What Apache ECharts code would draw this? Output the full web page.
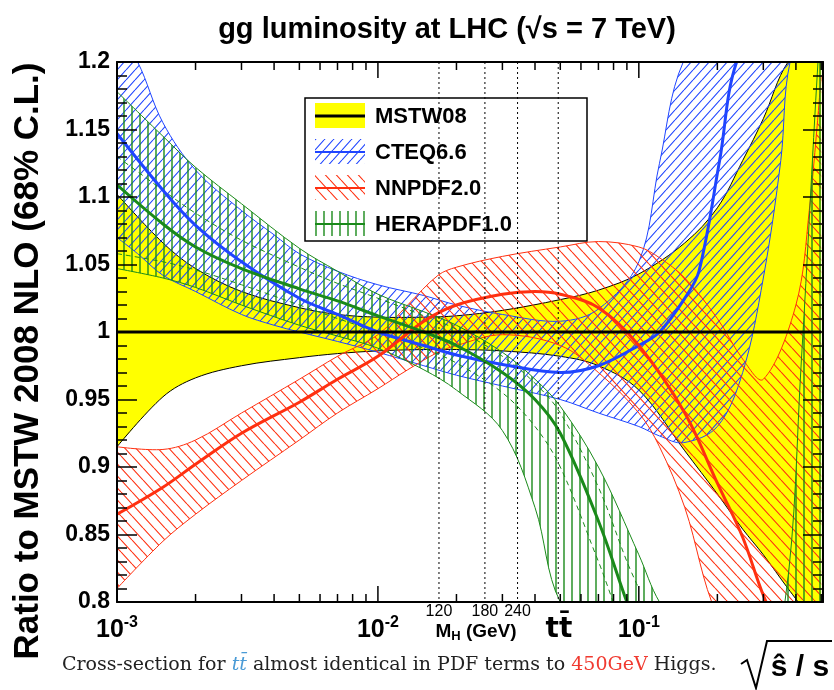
<!DOCTYPE html>
<html>
<head>
<meta charset="utf-8">
<script src="https://cdn.jsdelivr.net/npm/echarts@6/dist/echarts.min.js"></script>
<style>
html, body { margin: 0; padding: 0; background: #fff; }
#chart { width: 834px; height: 690px; }
</style>
</head>
<body>
<div id="chart"></div>
<script>
// x = sqrt(s_hat / s), y = ratio to MSTW 2008 NLO

// MSTW08 band (yellow)
const mstwX  = [0.001, 0.0015, 0.002, 0.003, 0.005, 0.007, 0.01, 0.015, 0.02, 0.03, 0.05, 0.07, 0.1, 0.15, 0.2, 0.25, 0.3, 0.373, 0.5];
const mstwUp = [1.102, 1.066, 1.047, 1.03, 1.018, 1.013, 1.011, 1.011, 1.012, 1.016, 1.024, 1.031, 1.043, 1.066, 1.092, 1.127, 1.158, 1.2, 1.32];
const mstwLo = [0.915, 0.952, 0.966, 0.975, 0.981, 0.984, 0.986, 0.987, 0.987, 0.986, 0.982, 0.975, 0.957, 0.912, 0.88, 0.854, 0.835, 0.81, 0.72];
const mstwCX = [0.001, 0.5];
const mstwC  = [1, 1];

// CTEQ6.6 band (blue)
const cteqX  = [0.001, 0.0012, 0.0015, 0.002, 0.003, 0.004, 0.005, 0.007, 0.01, 0.015, 0.02, 0.03, 0.05, 0.07, 0.1, 0.12, 0.148, 0.2, 0.25, 0.3, 0.35, 0.38, 0.45];
const cteqUp = [1.23, 1.2, 1.155, 1.12, 1.09, 1.072, 1.058, 1.045, 1.035, 1.027, 1.02, 1.013, 1.008, 1.017, 1.052, 1.125, 1.2, 1.35, 1.45, 1.55, 1.65, 1.7, 1.8];
const cteqLo = [1.07, 1.058, 1.042, 1.03, 1.013, 1.005, 1.0, 0.993, 0.985, 0.975, 0.968, 0.96, 0.95, 0.94, 0.93, 0.923, 0.918, 0.93, 0.97, 1.04, 1.127, 1.2, 1.4];
const cteqCX = [0.001, 0.0015, 0.002, 0.003, 0.005, 0.007, 0.01, 0.015, 0.02, 0.03, 0.05, 0.07, 0.1, 0.12, 0.15, 0.17, 0.204, 0.237, 0.3];
const cteqC  = [1.147, 1.105, 1.079, 1.052, 1.025, 1.013, 1.0, 0.99, 0.983, 0.976, 0.97, 0.975, 0.99, 1.0, 1.025, 1.045, 1.127, 1.2, 1.4];

// NNPDF2.0 band (red)
const nnX  = [0.001, 0.0015, 0.002, 0.003, 0.005, 0.007, 0.01, 0.013, 0.017, 0.02, 0.03, 0.05, 0.07, 0.1, 0.12, 0.15, 0.2, 0.25, 0.3, 0.4, 0.45, 0.5];
const nnUp = [0.915, 0.913, 0.92, 0.94, 0.965, 0.982, 0.998, 1.02, 1.042, 1.048, 1.056, 1.063, 1.067, 1.063, 1.055, 1.04, 1.01, 0.98, 0.965, 1.02, 1.09, 1.19];
const nnLo = [0.81, 0.845, 0.865, 0.89, 0.92, 0.94, 0.958, 0.972, 0.985, 0.99, 0.998, 0.99, 0.97, 0.94, 0.915, 0.87, 0.79, 0.65, 0.5, 0.35, 0.3, 0.3];
const nnCX = [0.001, 0.0015, 0.002, 0.003, 0.005, 0.007, 0.01, 0.015, 0.02, 0.03, 0.04, 0.05, 0.07, 0.1, 0.15, 0.2, 0.25, 0.3, 0.35];
const nnC  = [0.865, 0.885, 0.902, 0.925, 0.948, 0.965, 0.982, 1.008, 1.02, 1.028, 1.03, 1.028, 1.018, 0.99, 0.94, 0.888, 0.848, 0.805, 0.76];

// HERAPDF1.0 band (green), dashed = experimental part
const heraX  = [0.001, 0.0015, 0.002, 0.003, 0.005, 0.007, 0.01, 0.015, 0.02, 0.03, 0.04, 0.05, 0.07, 0.1, 0.12, 0.15, 0.2, 0.3, 0.363, 0.42, 0.486, 0.5];
const heraUp = [1.178, 1.145, 1.122, 1.095, 1.062, 1.045, 1.028, 1.015, 1.005, 0.985, 0.965, 0.945, 0.9, 0.835, 0.8, 0.75, 0.7, 0.72, 0.8, 0.98, 1.2, 1.25];
const heraLo = [1.047, 1.04, 1.033, 1.02, 1.005, 0.997, 0.988, 0.972, 0.957, 0.927, 0.87, 0.8, 0.7, 0.6, 0.55, 0.5, 0.45, 0.4, 0.4, 0.4, 0.4, 0.4];
const heraCX = [0.001, 0.0015, 0.002, 0.003, 0.005, 0.007, 0.01, 0.015, 0.02, 0.03, 0.04, 0.05, 0.07, 0.09, 0.1];
const heraC  = [1.109, 1.08, 1.063, 1.047, 1.032, 1.023, 1.012, 1.0, 0.99, 0.97, 0.95, 0.925, 0.86, 0.8, 0.77];
const heraExpUp = [1.13, 1.105, 1.088, 1.068, 1.048, 1.036, 1.025, 1.012, 1.002, 0.982, 0.962, 0.94, 0.885, 0.83, 0.81];
const heraExpLo = [1.058, 1.052, 1.046, 1.035, 1.02, 1.01, 1.0, 0.988, 0.977, 0.955, 0.93, 0.9, 0.83, 0.77, 0.74];

// M_H = 120, 180, 240 GeV and 2 m_t, divided by 7 TeV
const massX = [0.01714, 0.02571, 0.03429, 0.0491];
const massLabels = ['120', '180', '240', ''];

const xMajorTicks = [0.001, 0.01, 0.1];
const xMinorTicks = [0.002, 0.003, 0.004, 0.005, 0.006, 0.007, 0.008, 0.009,
                     0.02, 0.03, 0.04, 0.05, 0.06, 0.07, 0.08, 0.09,
                     0.2, 0.3, 0.4, 0.5];

const BLUE = '#1f45ff';
const RED = '#ff3010';
const GREEN = '#1a8a1a';
const FONT = 'Liberation Sans';

// hatch patterns
function hatch(color, kind, w, h, lw) {
    const c = document.createElement('canvas');
    c.width = w; c.height = h;
    const g = c.getContext('2d');
    g.strokeStyle = color;
    g.lineWidth = lw;
    g.beginPath();
    if (kind === '|') {
        g.moveTo(w / 2, 0); g.lineTo(w / 2, h);
    } else {
        for (let k = -1; k <= 1; k++) {
            if (kind === '/') { g.moveTo(k * w, h); g.lineTo(k * w + w, 0); }
            else { g.moveTo(k * w, 0); g.lineTo(k * w + w, h); }
        }
    }
    g.stroke();
    return { image: c, repeat: 'repeat' };
}
const blueHatch = hatch(BLUE, '/', 9, 10, 1.1);
const redHatch = hatch(RED, '\\', 11, 12, 1.1);
const greenHatch = hatch(GREEN, '|', 8, 8, 1.4);

const SMOOTH = 0.35;

// pixel points, kept near the plot so off-scale values stay bounded
function toPts(params, api, xs, ys) {
    const cs = params.coordSys;
    const lo = cs.y - 30, hi = cs.y + cs.height + 30;
    return xs.map((x, i) => {
        const p = api.coord([x, ys[i]]);
        return [p[0], Math.max(lo, Math.min(hi, p[1]))];
    });
}

// each band on its own canvas layer (zlevel)
function bandSeries(xs, dn, up, fill, edge, zlevel) {
    return {
        type: 'custom',
        clip: true,
        zlevel: zlevel,
        silent: true,
        data: [[0.01, 1]],
        encode: { x: 0, y: 1 },
        renderItem: function (params, api) {
            const u = toPts(params, api, xs, up), d = toPts(params, api, xs, dn);
            const poly = [u[0]].concat(u, [u[u.length - 1], d[d.length - 1]], d.slice().reverse(), [d[0]]);
            return {
                type: 'group',
                children: [
                    { type: 'polygon', shape: { points: poly, smooth: SMOOTH }, style: { fill: fill, stroke: 'none' } },
                    { type: 'polyline', shape: { points: u, smooth: SMOOTH }, style: { stroke: edge, lineWidth: 1, fill: 'none' } },
                    { type: 'polyline', shape: { points: d, smooth: SMOOTH }, style: { stroke: edge, lineWidth: 1, fill: 'none' } }
                ]
            };
        }
    };
}

const curvesSeries = {
    type: 'custom',
    clip: true,
    zlevel: 5,
    silent: true,
    data: [[0.01, 1]],
    encode: { x: 0, y: 1 },
    renderItem: function (params, api) {
        const kids = [];
        const curve = (xs, ys, color, width, dash) => {
            kids.push({ type: 'polyline', shape: { points: toPts(params, api, xs, ys), smooth: SMOOTH },
                        style: { stroke: color, lineWidth: width, fill: 'none', lineDash: dash || null } });
        };
        curve(heraCX, heraExpUp, GREEN, 1, [5, 4]);
        curve(heraCX, heraExpLo, GREEN, 1, [5, 4]);
        curve(cteqCX, cteqC, BLUE, 3);
        curve(nnCX, nnC, RED, 3);
        curve(heraCX, heraC, GREEN, 3);
        curve(mstwCX, mstwC, '#000', 3);
        return { type: 'group', children: kids };
    }
};

const massSeries = {
    type: 'custom',
    clip: false,
    zlevel: 5,
    silent: true,
    data: massX.map((x, i) => [x, 1, i]),
    encode: { x: 0, y: 1 },
    renderItem: function (params, api) {
        const cs = params.coordSys;
        const px = api.coord([api.value(0), 1])[0];
        const label = massLabels[api.value(2)];
        return {
            type: 'group',
            children: [
                { type: 'line', shape: { x1: px, y1: cs.y, x2: px, y2: cs.y + cs.height },
                  style: { stroke: '#000', lineWidth: 1, lineDash: [2, 3] } },
                { type: 'text', x: px, y: cs.y + cs.height + 10,
                  style: { text: label, fill: '#000', font: '16px "' + FONT + '"', align: 'center', verticalAlign: 'middle' } }
            ]
        };
    }
};

const tickSeries = {
    type: 'custom',
    clip: false,
    zlevel: 6,
    silent: true,
    data: [[0.01, 1]],
    encode: { x: 0, y: 1 },
    renderItem: function (params, api) {
        const cs = params.coordSys;
        const top = cs.y, bot = cs.y + cs.height;
        const kids = [];
        const add = (v, len) => {
            const px = api.coord([v, 1])[0];
            kids.push({ type: 'line', shape: { x1: px, y1: bot, x2: px, y2: bot - len }, style: { stroke: '#000', lineWidth: 1.5 } });
            kids.push({ type: 'line', shape: { x1: px, y1: top, x2: px, y2: top + len }, style: { stroke: '#000', lineWidth: 1.5 } });
        };
        xMajorTicks.forEach(v => add(v, 16));
        xMinorTicks.forEach(v => add(v, 8));
        return { type: 'group', children: kids };
    }
};

const chart = echarts.init(document.getElementById('chart'));

const yAxisBase = {
    type: 'value',
    min: 0.8,
    max: 1.2,
    interval: 0.05,
    zlevel: 6,
    splitLine: { show: false },
    axisLine: { show: true, lineStyle: { color: '#000', width: 2 } },
    axisTick: { show: true, inside: true, length: 20, lineStyle: { color: '#000', width: 1.5 } },
    minorTick: { show: true, splitNumber: 5, length: 10, lineStyle: { color: '#000', width: 1.5 } }
};

const option = {
    animation: false,
    backgroundColor: '#fff',
    grid: { left: 117, right: 11, top: 62, bottom: 88 },
    xAxis: [{
        type: 'log',
        logBase: 10,
        min: 0.001,
        max: 0.508,
        zlevel: 6,
        splitLine: { show: false },
        axisLine: { show: true, lineStyle: { color: '#000', width: 2 } },
        axisTick: { show: false },
        minorTick: { show: false },
        axisLabel: {
            margin: 13,
            color: '#000',
            formatter: function (v) {
                const e = Math.round(Math.log10(v));
                if (Math.abs(Math.log10(v) - e) > 1e-6) return '';
                return '{b|10}{s|' + e + '}';
            },
            rich: {
                b: { fontFamily: FONT, fontWeight: 'bold', fontSize: 25, color: '#000' },
                s: { fontFamily: FONT, fontWeight: 'bold', fontSize: 16, color: '#000', verticalAlign: 'top', padding: [0, 0, 14, 0] }
            }
        }
    }, {
        type: 'log',
        logBase: 10,
        position: 'top',
        min: 0.001,
        max: 0.508,
        zlevel: 6,
        splitLine: { show: false },
        axisLine: { show: true, lineStyle: { color: '#000', width: 2 } },
        axisTick: { show: false },
        axisLabel: { show: false }
    }],
    yAxis: [Object.assign({}, yAxisBase, {
        position: 'left',
        axisLabel: {
            margin: 7,
            color: '#000',
            fontFamily: FONT,
            fontWeight: 'bold',
            fontSize: 23,
            formatter: v => String(+v.toFixed(2))
        }
    }), Object.assign({}, yAxisBase, {
        position: 'right',
        axisLabel: { show: false }
    })],
    series: [
        bandSeries(mstwX, mstwLo, mstwUp, '#ffff00', '#000', 0),
        bandSeries(cteqX, cteqLo, cteqUp, blueHatch, BLUE, 1),
        bandSeries(nnX, nnLo, nnUp, redHatch, RED, 2),
        bandSeries(heraX, heraLo, heraUp, greenHatch, GREEN, 3),
        curvesSeries,
        massSeries,
        tickSeries
    ],
    graphic: {
        zlevel: 7,
        elements: [
            // title
            { type: 'text', x: 447, y: 30,
              style: { text: 'gg luminosity at LHC (\u221As = 7 TeV)', fill: '#000',
                       font: 'bold 29px "' + FONT + '"', align: 'center', verticalAlign: 'middle' } },
            // y axis name
            { type: 'text', x: 28, y: 361, rotation: Math.PI / 2,
              style: { text: 'Ratio to MSTW 2008 NLO (68% C.L.)', fill: '#000',
                       font: 'bold 35px "' + FONT + '"', align: 'center', verticalAlign: 'middle' } },
            // extra x labels
            { type: 'text', x: 476, y: 632,
              style: { text: '{m|M}{h|H}{m| (GeV)}', align: 'center', verticalAlign: 'middle',
                       rich: { m: { fontFamily: FONT, fontWeight: 'bold', fontSize: 19, fill: '#000' },
                               h: { fontFamily: FONT, fontWeight: 'bold', fontSize: 13, fill: '#000', verticalAlign: 'bottom', padding: [8, 0, 0, 0] } } } },
            { type: 'text', x: 559, y: 630,
              style: { text: 'tt\u0304', fill: '#000', font: 'bold 28px "DejaVu Sans"', align: 'center', verticalAlign: 'middle' } },
            // bottom caption
            { type: 'text', x: 62, y: 665,
              style: { text: '{a|Cross-section for }{t|tt\u0304}{a| almost identical in PDF terms to }{r|450GeV}{a| Higgs.}',
                       align: 'left', verticalAlign: 'middle',
                       rich: { a: { fontFamily: 'DejaVu Serif', fontSize: 19, fill: '#222' },
                               t: { fontFamily: 'DejaVu Serif', fontStyle: 'italic', fontSize: 19, fill: '#4a9bd6' },
                               r: { fontFamily: 'DejaVu Serif', fontSize: 19, fill: '#f03a30' } } } },
            // sqrt(s_hat / s)
            { type: 'polyline', shape: { points: [[741, 664], [747, 660], [756, 688], [767, 641], [832, 641]] },
              style: { stroke: '#000', lineWidth: 2, fill: 'none' } },
            { type: 'text', x: 800, y: 668,
              style: { text: '\u015D / s', fill: '#000', font: 'bold 30px "' + FONT + '"', align: 'center', verticalAlign: 'middle' } },
            // legend
            { type: 'rect', z: 60, shape: { x: 305, y: 98, width: 282, height: 143 },
              style: { fill: '#fff', stroke: '#000', lineWidth: 1.5 } },
            { type: 'rect', z: 61, shape: { x: 315, y: 103, width: 50, height: 25 }, style: { fill: '#ffff00' } },
            { type: 'line', z: 62, shape: { x1: 315, y1: 116, x2: 365, y2: 116 }, style: { stroke: '#000', lineWidth: 3 } },
            { type: 'rect', z: 61, shape: { x: 315, y: 139, width: 50, height: 25 }, style: { fill: blueHatch } },
            { type: 'line', z: 62, shape: { x1: 315, y1: 152, x2: 365, y2: 152 }, style: { stroke: BLUE, lineWidth: 2 } },
            { type: 'rect', z: 61, shape: { x: 315, y: 175, width: 50, height: 25 }, style: { fill: redHatch } },
            { type: 'line', z: 62, shape: { x1: 315, y1: 188, x2: 365, y2: 188 }, style: { stroke: RED, lineWidth: 2 } },
            { type: 'rect', z: 61, shape: { x: 315, y: 211, width: 50, height: 25 }, style: { fill: greenHatch } },
            { type: 'line', z: 62, shape: { x1: 315, y1: 224, x2: 365, y2: 224 }, style: { stroke: GREEN, lineWidth: 2 } },
            { type: 'text', x: 375, y: 117, z: 62, style: { text: 'MSTW08', fill: '#000', font: 'bold 22px "' + FONT + '"', verticalAlign: 'middle' } },
            { type: 'text', x: 375, y: 153, z: 62, style: { text: 'CTEQ6.6', fill: '#000', font: 'bold 22px "' + FONT + '"', verticalAlign: 'middle' } },
            { type: 'text', x: 375, y: 189, z: 62, style: { text: 'NNPDF2.0', fill: '#000', font: 'bold 22px "' + FONT + '"', verticalAlign: 'middle' } },
            { type: 'text', x: 375, y: 225, z: 62, style: { text: 'HERAPDF1.0', fill: '#000', font: 'bold 22px "' + FONT + '"', verticalAlign: 'middle' } }
        ]
    }
};

chart.setOption(option);
</script>
</body>
</html>
